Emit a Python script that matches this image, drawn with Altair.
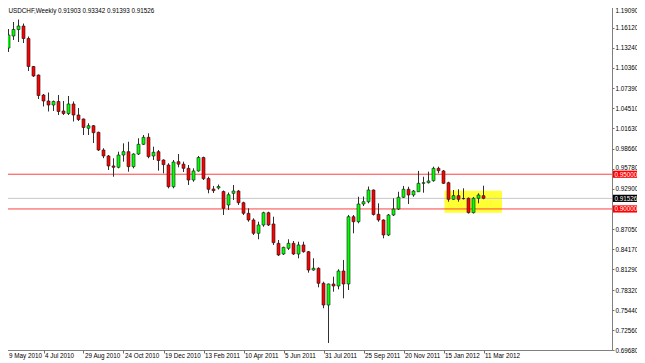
import json
import altair as alt
import pandas as pd

# ---- weekly USDCHF candles (9 May 2010 ... 11 Mar 2012) ----
opens = [1.1045, 1.1318, 1.1491, 1.1585, 1.1635, 1.1455, 1.1052, 1.0929, 1.0641, 1.0555,
         1.0497, 1.0548, 1.0411, 1.0375, 1.0512, 1.0353, 1.0296, 1.0162, 1.0199, 1.0104,
         0.9849, 0.9763, 0.9619, 0.9600, 0.9777, 0.9825, 0.9609, 0.9791, 0.9931, 1.0032,
         0.9763, 0.9825, 0.9705, 0.9633, 0.9320, 0.9681, 0.9645, 0.9585, 0.9417, 0.9547,
         0.9741, 0.9439, 0.9287, 0.9302, 0.9251, 0.9057, 0.9225, 0.9258, 0.9090, 0.8937,
         0.8841, 0.8649, 0.8769, 0.8946, 0.8783, 0.8505, 0.8351, 0.8433, 0.8505, 0.8351,
         0.8481, 0.8384, 0.8120, 0.8145, 0.7929, 0.7616, 0.7919, 0.7890, 0.8106, 0.7919,
         0.8888, 0.8816, 0.9071, 0.9104, 0.9273, 0.8923, 0.8841, 0.8625, 0.8913, 0.8999,
         0.9168, 0.9283, 0.9201, 0.9248, 0.9369, 0.9378, 0.9407, 0.9585, 0.9547, 0.9378,
         0.9139, 0.9191, 0.9150, 0.9153, 0.8946, 0.9153, 0.91903]
highs = [1.1347, 1.1592, 1.1693, 1.1729, 1.1671, 1.1484, 1.1059, 1.0937, 1.0656, 1.0677,
         1.0562, 1.0641, 1.0555, 1.0627, 1.0548, 1.0454, 1.0303, 1.0234, 1.0209, 1.0113,
         0.9874, 0.9777, 0.9730, 0.9825, 0.9945, 0.9968, 0.9802, 1.0018, 1.0065, 1.0090,
         0.9897, 0.9849, 0.9715, 0.9658, 0.9705, 0.9791, 0.9681, 0.9633, 0.9585, 0.9763,
         0.9753, 0.9464, 0.9331, 0.9352, 0.9266, 0.9237, 0.9345, 0.9273, 0.9104, 0.9009,
         0.8865, 0.8816, 0.8960, 0.8960, 0.8888, 0.8553, 0.8456, 0.8563, 0.8538, 0.8528,
         0.8528, 0.8394, 0.8289, 0.8159, 0.7952, 0.7925, 0.8024, 0.8131, 0.8265, 0.8913,
         0.8913, 0.9176, 0.9179, 0.9323, 0.9280, 0.9081, 0.8851, 0.8927, 0.9153, 0.9248,
         0.9331, 0.9320, 0.9273, 0.9547, 0.9464, 0.9537, 0.9609, 0.9609, 0.9561, 0.9392,
         0.9273, 0.9283, 0.9297, 0.9165, 0.9172, 0.9225, 0.93342]
lows = [1.0929, 1.1261, 1.1434, 1.1405, 1.1390, 1.0987, 1.0901, 1.0584, 1.0476, 1.0404,
        1.0411, 1.0353, 1.0353, 1.0353, 1.0260, 1.0267, 1.0065, 1.0065, 0.9950, 0.9835,
        0.9730, 0.9561, 0.9464, 0.9585, 0.9681, 0.9537, 0.9585, 0.9777, 0.9921, 0.9730,
        0.9705, 0.9551, 0.9513, 0.9297, 0.9297, 0.9600, 0.9532, 0.9345, 0.9392, 0.9537,
        0.9417, 0.9225, 0.9230, 0.9280, 0.8913, 0.8985, 0.9129, 0.9057, 0.8913, 0.8816,
        0.8625, 0.8563, 0.8744, 0.8754, 0.8481, 0.8322, 0.8337, 0.8409, 0.8337, 0.8289,
        0.8370, 0.8082, 0.8110, 0.7871, 0.7569, 0.7069, 0.7808, 0.7842, 0.7713, 0.7832,
        0.8649, 0.8793, 0.9042, 0.9081, 0.8905, 0.8816, 0.8577, 0.8610, 0.8898, 0.8985,
        0.9158, 0.9071, 0.9176, 0.9248, 0.9234, 0.9367, 0.9392, 0.9513, 0.9359, 0.9104,
        0.9129, 0.9104, 0.9136, 0.8934, 0.8934, 0.9081, 0.91393]
closes = [1.1318, 1.1506, 1.1585, 1.1635, 1.1455, 1.1052, 1.0915, 1.0634, 1.0555, 1.0497,
          1.0548, 1.0404, 1.0375, 1.0512, 1.0353, 1.0288, 1.0173, 1.0199, 1.0098, 0.9849,
          0.9763, 0.9619, 0.9600, 0.9777, 0.9825, 0.9609, 0.9791, 0.9931, 1.0032, 0.9753,
          0.9816, 0.9698, 0.9638, 0.9320, 0.9676, 0.9645, 0.9585, 0.9417, 0.9547, 0.9741,
          0.9436, 0.9283, 0.9263, 0.9323, 0.9009, 0.9205, 0.9258, 0.9090, 0.8937, 0.8841,
          0.8649, 0.8769, 0.8946, 0.8769, 0.8514, 0.8337, 0.8447, 0.8505, 0.8351, 0.8481,
          0.8384, 0.8120, 0.8145, 0.7929, 0.7616, 0.7919, 0.7890, 0.8106, 0.7919, 0.8888,
          0.8816, 0.9071, 0.9104, 0.9273, 0.8920, 0.8841, 0.8625, 0.8913, 0.8999, 0.9168,
          0.9283, 0.9201, 0.9258, 0.9369, 0.9378, 0.9403, 0.9585, 0.9551, 0.9369, 0.9139,
          0.9191, 0.9139, 0.9148, 0.8946, 0.9153, 0.9201, 0.91526]

date_labels = ["9 May 2010", "4 Jul 2010", "29 Aug 2010", "24 Oct 2010", "19 Dec 2010",
               "13 Feb 2011", "10 Apr 2011", "5 Jun 2011", "31 Jul 2011", "25 Sep 2011",
               "20 Nov 2011", "15 Jan 2012", "11 Mar 2012"]
label_step = 8  # weeks between date labels
price_ticks = [1.19090, 1.16120, 1.13240, 1.10360, 1.07390, 1.04510, 1.01630, 0.98660,
               0.95780, 0.92900, 0.87050, 0.84170, 0.81290, 0.78320, 0.75440,
               0.72560, 0.69680]
levels = [0.95000, 0.90000]                 # horizontal support / resistance lines
zone_weeks = [88.2, 99.7]                   # highlighted consolidation box (week index)
zone_prices = [0.8946, 0.9263]
symbol = "USDCHF,Weekly"

FONT = "Liberation Sans"
FS = 6.3
UP, DOWN = "#00ff00", "#ff0000"
W, H = 612, 350

df = pd.DataFrame({"i": list(range(len(opens))), "open": opens, "high": highs,
                   "low": lows, "close": closes})
df["col"] = [UP if c >= o else DOWN for o, c in zip(opens, closes)]

xs = alt.Scale(domain=[-0.7, W / 5 - 0.7], nice=False, zero=False, padding=0)
ys = alt.Scale(domain=[0.6968, 1.20098], nice=False, zero=False, padding=0)

label_expr = json.dumps(date_labels) + "[floor(datum.value / %d)]" % label_step
x_axis = alt.Axis(values=list(range(0, label_step * len(date_labels), label_step)),
                  labelExpr=label_expr, orient="bottom", tickSize=3, tickColor="#707070",
                  labelAlign="left", labelBaseline="top", labelPadding=-1,
                  labelOffset={"condition": {"test": "datum.value == 0", "value": 5},
                               "value": 1},
                  labelFont=FONT, labelFontSize=FS, labelColor="black", domain=False,
                  grid=False, title=None, labelOverlap=False, labelFlush=False)
y_axis = alt.Axis(values=price_ticks, format=".5f", orient="right", tickSize=2,
                  tickColor="#707070", labelPadding=1, labelFont=FONT, labelFontSize=FS,
                  labelOffset={"condition": [
                      {"test": "datum.value > 1.19", "value": 4},
                      {"test": "datum.value > 0.957 && datum.value < 0.959", "value": -1.8}],
                      "value": 0},
                  labelColor="black", domain=False, grid=False, title=None,
                  labelOverlap=False, labelFlush=False)


def X(field):
    return alt.X(field, scale=xs, axis=x_axis)


def Y(field):
    return alt.Y(field, scale=ys, axis=y_axis)


base = alt.Chart(df)

zone_df = pd.DataFrame({"i0": [zone_weeks[0]], "i1": [zone_weeks[1]],
                        "p0": [zone_prices[0]], "p1": [zone_prices[1]]})
zone = alt.Chart(zone_df).mark_rect(color="#ffff33").encode(
    x=X("i0:Q"), x2="i1:Q", y=Y("p0:Q"), y2="p1:Q")

level_df = pd.DataFrame({"p": levels})
level_lines = alt.Chart(level_df).mark_rule(color="#ff4040", strokeWidth=1).encode(
    y=Y("p:Q"))

bid_df = pd.DataFrame({"p": [closes[-1]]})
bid_line = alt.Chart(bid_df).mark_rule(color="#c8c8c8", strokeWidth=1).encode(
    y=Y("p:Q"))

wicks = base.mark_rule(color="#303030", strokeWidth=1).encode(
    x=X("i:Q"), y=Y("low:Q"), y2="high:Q")

bodies = base.mark_bar(size=3, stroke="#1a1a1a", strokeWidth=0.6).encode(
    x=X("i:Q"), y=Y("open:Q"), y2="close:Q",
    fill=alt.Fill("col:N", scale=None))

tags_df = pd.DataFrame({"p": levels + [closes[-1]],
                        "bg": [DOWN, DOWN, "#000000"]})
tags_df["t"] = ["%.5f" % v for v in tags_df["p"]]
box_shape = "M-1.5,-0.45H1.5V0.45H-1.5Z"
tag_boxes = alt.Chart(tags_df).mark_point(shape=box_shape, filled=True, opacity=1,
                                          size=256, strokeWidth=0).encode(
    x=alt.value(W + 13), y=Y("p:Q"), fill=alt.Fill("bg:N", scale=None))
tag_text = alt.Chart(tags_df).mark_text(align="left", baseline="middle", font=FONT,
                                        fontSize=FS, color="white", dy=0.3).encode(
    x=alt.value(W + 2.5), y=Y("p:Q"), text="t:N")

title_str = "%s  %.5f %.5f %.5f %.5f" % (symbol, opens[-1], highs[-1], lows[-1], closes[-1])
title = alt.Chart(pd.DataFrame({"t": [title_str]})).mark_text(
    align="left", baseline="alphabetic", font=FONT, fontSize=FS, color="black").encode(
    x=alt.value(8.5), y=alt.value(13), text="t:N")

chart = alt.layer(zone, bid_line, level_lines, wicks, bodies, tag_boxes, tag_text, title).properties(
    width=W, height=H,
    padding={"left": -8, "top": -8, "right": 25, "bottom": 13},
    autosize=alt.AutoSizeParams(type="none"),
    background="white",
).configure_view(stroke="#808080", strokeWidth=1)

chart.save("out.html", embed_options={"renderer": "svg", "actions": False})
